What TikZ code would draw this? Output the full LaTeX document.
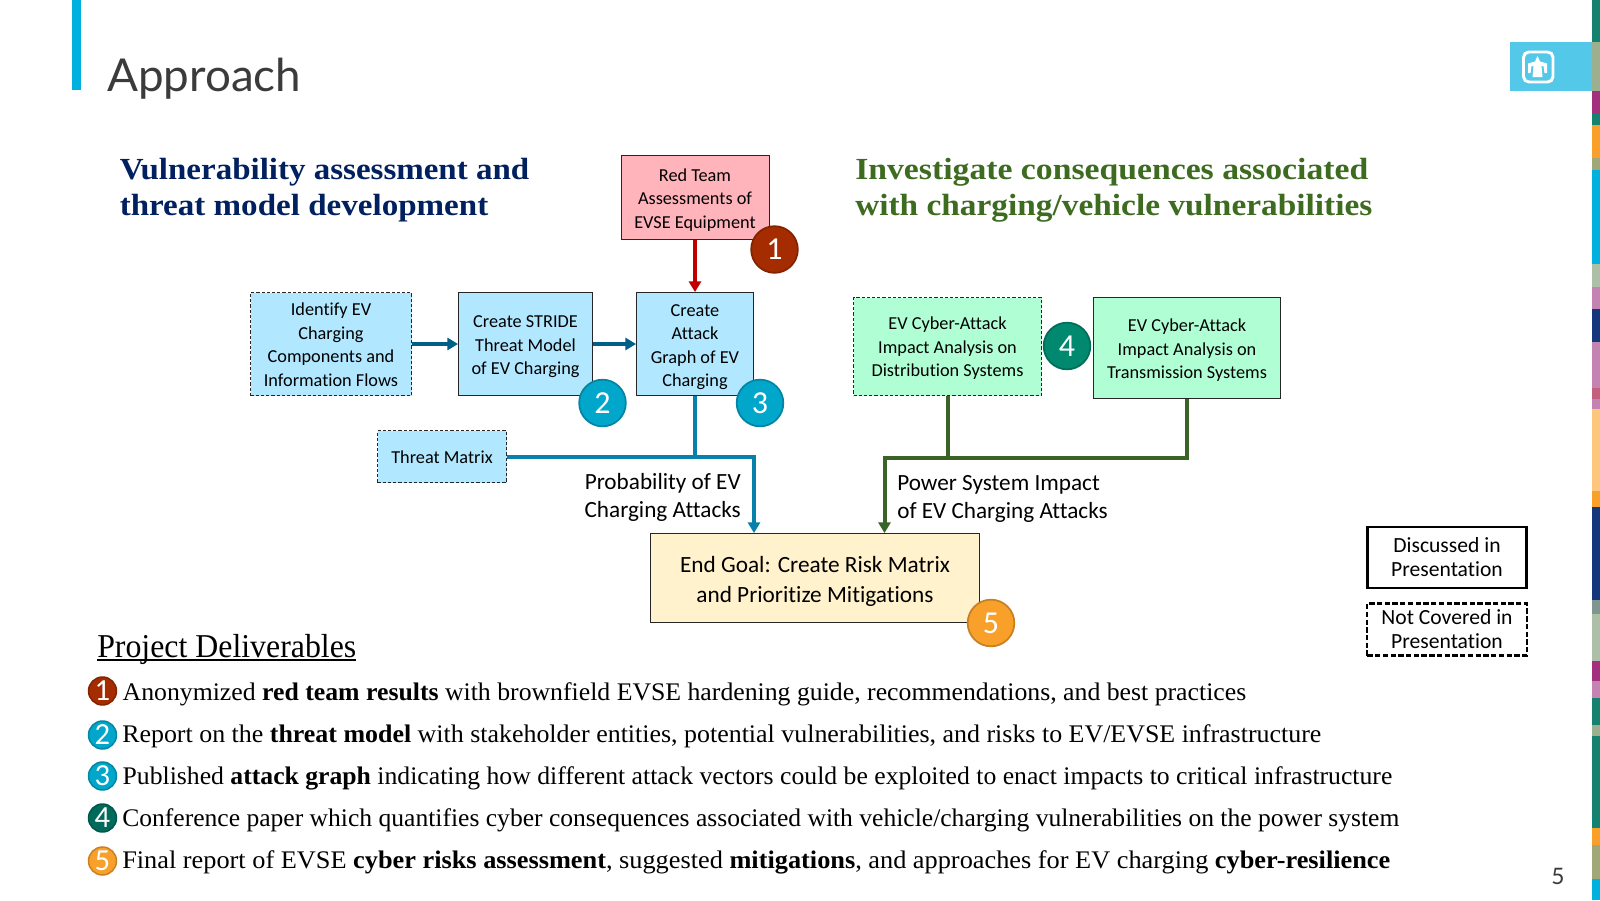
\documentclass[tikz,border=0pt]{standalone}
\usepackage{fontspec}
\usepackage{graphicx}
\setmainfont{Liberation Serif}
\newfontfamily\calfont[Ligatures=NoCommon]{Carlito}
\newfontfamily\gillfont{Lato}
\usetikzlibrary{arrows.meta}
\newcommand\fitpx[2]{\resizebox{\dimexpr#1pt*3/4\relax}{\height}{#2}}
\newcommand\low[2]{\raisebox{-#1pt}[\height][\depth]{\begin{tabular}{@{}c@{}}#2\end{tabular}}}
\newcommand\ulx[1]{\setbox0\hbox{#1}\rlap{\rule[-2.8pt]{\wd0}{1.1pt}}\box0 }
\definecolor{bluebox}{HTML}{B2E8FF}
\definecolor{greenbox}{HTML}{B0FFD4}
\definecolor{redbox}{HTML}{FFB3BA}
\definecolor{yellowbox}{HTML}{FFF2CC}
\definecolor{linkblue}{HTML}{0780AB}
\definecolor{linkdark}{HTML}{005F86}
\definecolor{linkgreen}{HTML}{3A6427}
\definecolor{linkred}{HTML}{C00000}
\definecolor{headnavy}{HTML}{002060}
\definecolor{headgreen}{HTML}{3D6B1F}
\definecolor{inkgray}{HTML}{3B3B3B}
\definecolor{accent}{HTML}{00B0DE}
\definecolor{logoblue}{HTML}{54C8E8}
\definecolor{sTeal}{HTML}{14826F}
\definecolor{sSage}{HTML}{9CAF8F}
\definecolor{sPurple}{HTML}{A2307F}
\definecolor{sOrange}{HTML}{F9A02B}
\definecolor{sOlive}{HTML}{A0A878}
\definecolor{sCyan}{HTML}{00B0DE}
\definecolor{sSageB}{HTML}{ADBFA6}
\definecolor{sPink}{HTML}{C484B3}
\definecolor{sNavy}{HTML}{14367A}
\definecolor{sRose}{HTML}{C4607E}
\definecolor{sPale}{HTML}{FCC77D}
\definecolor{sGray}{HTML}{7F9590}
\definecolor{bRust}{HTML}{A42C00}
\definecolor{bCyan}{HTML}{00A7CB}
\definecolor{bTeal}{HTML}{00896F}
\definecolor{bDeep}{HTML}{006B5B}
\tikzset{
  x=0.75pt,y=-0.75pt,
  box/.style={draw=black!85,line width=0.65pt,inner sep=0pt,align=center,anchor=center,
    font=\calfont\fontsize{13.7}{17.6}\selectfont},
  notdisc/.style={dash pattern=on 2.4pt off 1.5pt},
  legendbox/.style={draw=black,inner sep=0pt,align=center,
    minimum width=119.5pt,font=\calfont\fontsize{16.2}{18}\selectfont},
  badge/.style={circle,draw=#1!80!black,fill=#1,line width=1.3pt,minimum size=35pt,inner sep=0pt,
    text=white,font=\calfont\fontsize{24}{24}\selectfont},
  bullet/.style={circle,draw=#1!80!black,fill=#1,line width=1.1pt,minimum size=21pt,inner sep=0pt,
    text=white,font=\calfont\fontsize{23}{23}\selectfont},
  heavy/.style={line width=3pt,line join=miter},
  tipped/.style={-{Triangle[length=8pt,width=9pt]}},
  lab/.style={inner sep=0pt,font=\calfont\fontsize{17.4}{21}\selectfont},
  dtext/.style={anchor=base west,inner sep=0pt,text=black,font=\fontsize{19}{19}\selectfont},
  htext/.style={anchor=base west,inner sep=0pt,font=\bfseries\fontsize{23}{23}\selectfont},
}
\begin{document}
\begin{tikzpicture}
\useasboundingbox (0,0) rectangle (1600,900);
\fill[white] (0,0) rectangle (1600,900);
% side strip
\foreach \a/\b/\c in {0/42/sTeal,42/91/sSage,91/114/sPurple,114/125/sTeal,125/158/sOrange,158/170/sOlive,170/264/sCyan,264/287/sSageB,287/309/sPink,309/342/sNavy,342/388/sPink,388/399/sRose,399/409/sPink,409/491/sPale,491/507/sOrange,507/600/sNavy,600/614/sGray,614/661/sSageB,661/681/sPurple,681/698/sPink,698/725/sTeal,725/736/sSage,736/828/sTeal,828/845/sOrange,845/879/sOlive,879/900/sCyan}
  {\fill[\c] (1592,\a) rectangle (1600,\b);}
% title block
\fill[accent] (72,0) rectangle (81,90);
\node[anchor=base west,inner sep=0pt,text=inkgray,font=\gillfont\fontsize{34}{34}\selectfont] (title) at (107,91) {\fitpx{194}{Approach}};
% logo
\fill[logoblue] (1510,42) rectangle (1592,91);
\draw[white,line width=2.2pt,rounded corners=4pt] (1523.5,52) rectangle (1553,82);
\fill[white] (1537.5,56) -- (1540,61.5) -- (1547,63.5) -- (1547,73) -- (1544.5,73) -- (1543.5,66) -- (1541.5,66) -- (1542.5,77) -- (1532.5,77) -- (1533.5,66) -- (1531.5,66) -- (1530.5,73) -- (1528,73) -- (1528,63.5) -- (1535,61.5) -- cycle;
% headings
\node[htext,text=headnavy] (h1) at (119.5,179.5) {\fitpx{409.5}{Vulnerability assessment and}};
\node[htext,text=headnavy] (h2) at (119.5,215.5) {\fitpx{368.5}{threat model development}};
\node[htext,text=headgreen] (h3) at (855,179.5) {\fitpx{513}{Investigate consequences associated}};
\node[htext,text=headgreen] (h4) at (855,215.5) {\fitpx{517}{with charging/vehicle vulnerabilities}};
% boxes
\node[box,fill=redbox,minimum width=111pt,minimum height=63pt] (red) at (695,197.5) {\low{1.8}{Red Team\\Assessments of\\EVSE Equipment}};
\node[box,notdisc,fill=bluebox,minimum width=120.75pt,minimum height=77.25pt] (identify) at (331,344) {\low{1.6}{Identify EV\\Charging\\Components and\\Information Flows}};
\node[box,fill=bluebox,minimum width=100.5pt,minimum height=77.25pt] (stride) at (525.5,344) {\low{1.8}{Create STRIDE\\Threat Model\\of EV Charging}};
\node[box,fill=bluebox,minimum width=87.75pt,minimum height=77.25pt] (attack) at (695,344) {\low{2}{Create\\Attack\\Graph of EV\\Charging}};
\node[box,notdisc,fill=bluebox,minimum width=96.75pt,minimum height=39pt] (matrix) at (442,456.5) {\low{1.5}{Threat Matrix}};
\node[box,notdisc,fill=greenbox,minimum width=141pt,minimum height=73.5pt] (dist) at (947.5,346.5) {\low{1.4}{EV Cyber-Attack\\Impact Analysis on\\Distribution Systems}};
\node[box,fill=greenbox,minimum width=140.25pt,minimum height=75.75pt] (trans) at (1187,348) {\low{1.8}{EV Cyber-Attack\\Impact Analysis on\\Transmission Systems}};
\node[box,fill=yellowbox,minimum width=246.75pt,minimum height=66.75pt,font=\calfont\fontsize{17.45}{22.2}\selectfont] (goal) at (815,578) {\low{2.6}{End Goal: Create Risk Matrix\\and Prioritize Mitigations}};
% connectors
\coordinate (jb) at (754,456.5);
\coordinate (jg) at (884.5,458);
\draw[linkred,heavy,tipped] (red.south) -- (attack.north);
\draw[linkdark,heavy,tipped] (identify.east) -- (stride.west);
\draw[linkdark,heavy,tipped] (stride.east) -- (attack.west);
\draw[linkblue,heavy] (attack.south) -- (attack.south |- jb);
\draw[linkblue,heavy,tipped] (matrix.east) -- (jb) -- (jb |- goal.north);
\draw[linkgreen,heavy] (dist.south) -- (dist.south |- jg);
\draw[linkgreen,heavy,tipped] (trans.south) -- (trans.south |- jg) -- (jg) -- (jg |- goal.north);
% labels
\node[lab,anchor=base east] (p1) at (741,489) {Probability of EV};
\node[lab,anchor=base east] (p2) at (741,517) {Charging Attacks};
\node[lab,anchor=base west] (s1) at (897,490) {Power System Impact};
\node[lab,anchor=base west] (s2) at (897,518.5) {of EV Charging Attacks};
% badges
\node[badge=bRust] (b1) at (774.5,249.5) {1};
\node[badge=bCyan] (b2) at (602.5,403) {2};
\node[badge=bCyan] (b3) at (760,403) {3};
\node[badge=bTeal] (b4) at (1067,346) {4};
\node[badge=sOrange] (b5) at (991,623) {5};
% legend
\node[legendbox,line width=1.8pt,minimum height=46pt] (l1) at (1447,557.5) {Discussed in\\Presentation};
\node[legendbox,line width=1.6pt,dash pattern=on 4pt off 1.8pt,minimum height=39pt] (l2) at (1447,629.5) {Not Covered in\\Presentation};
% deliverables
\node[anchor=base west,inner sep=0pt,font=\fontsize{25}{25}\selectfont] (pd) at (97,657) {\fitpx{259}{\ulx{Project Deliverables}}};
\node[bullet=bRust] (d1) at (102.5,691) {1};
\node[bullet=bCyan] (d2) at (102.5,735) {2};
\node[bullet=bCyan] (d3) at (102.5,776) {3};
\node[bullet=bDeep] (d4) at (102.5,818) {4};
\node[bullet=sOrange] (d5) at (102.5,861) {5};
\node[dtext] (t1) at (122.4,700.2) {\fitpx{1123.6}{Anonymized \textbf{red team results} with brownfield EVSE hardening guide, recommendations, and best practices}};
\node[dtext] (t2) at (122,742.7) {\fitpx{1199}{Report on the \textbf{threat model} with stakeholder entities, potential vulnerabilities, and risks to EV/EVSE infrastructure}};
\node[dtext] (t3) at (122.4,784.7) {\fitpx{1269.6}{Published \textbf{attack graph} indicating how different attack vectors could be exploited to enact impacts to critical infrastructure}};
\node[dtext] (t4) at (122,826.7) {\fitpx{1277}{Conference paper which quantifies cyber consequences associated with vehicle/charging vulnerabilities on the power system}};
\node[dtext] (t5) at (122,868.7) {\fitpx{1268}{Final report of EVSE \textbf{cyber risks assessment}, suggested \textbf{mitigations}, and approaches for EV charging \textbf{cyber-resilience}}};
% page number
\node[inner sep=0pt,text=inkgray,font=\gillfont\fontsize{17}{17}\selectfont] (pg) at (1558,876) {5};
\end{tikzpicture}
\end{document}
